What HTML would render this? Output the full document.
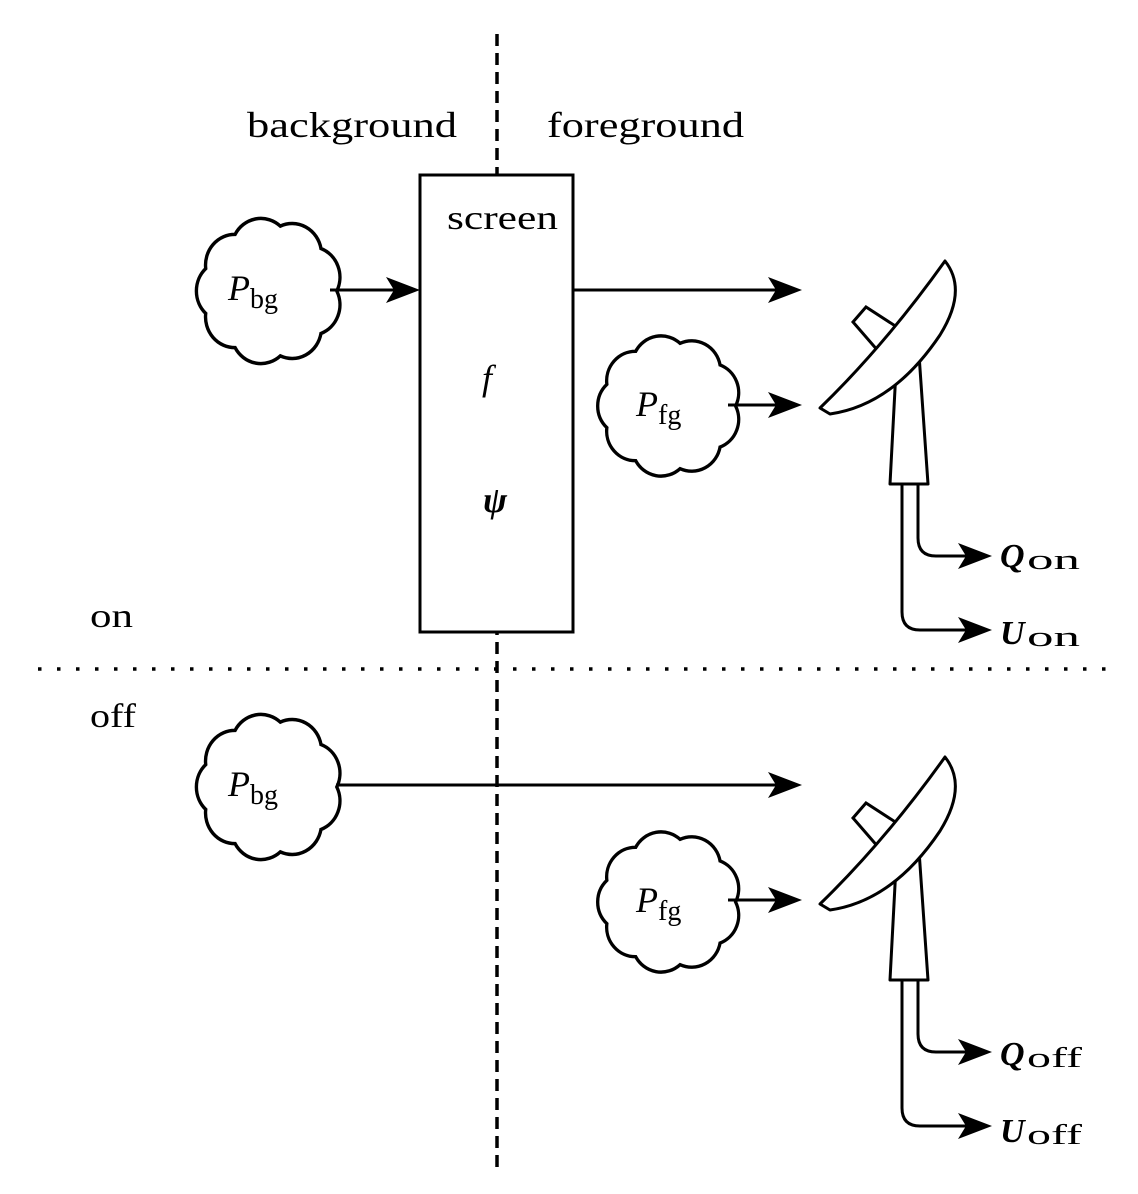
<!DOCTYPE html>
<html><head><meta charset="utf-8"><style>
html,body{margin:0;padding:0;background:#fff}
svg{display:block}
text{font-family:"Liberation Serif",serif;fill:#000}
</style></head><body>
<svg width="1138" height="1194" viewBox="0 0 1138 1194" xmlns="http://www.w3.org/2000/svg">
<defs>
<path id="cloud" d="M60,0 A26,26 0 0 1 46,36 A26,26 0 0 1 10,55 A26,26 0 0 1 -30,48 A26,26 0 0 1 -56,19 A26,26 0 0 1 -56,-19 A26,26 0 0 1 -30,-48 A26,26 0 0 1 10,-55 A26,26 0 0 1 46,-36 A26,26 0 0 1 60,0 Z" fill="#fff" stroke="#000" stroke-width="3"/>
<g id="dish">
<polygon points="853,322 866,307 900,329 879,352" fill="#fff" stroke="#000" stroke-width="3"/>
<polygon points="896,370 918,340 928,484 890,484" fill="#fff" stroke="#000" stroke-width="3" stroke-linejoin="round"/>
<path d="M820,408 Q885,345 945,261 Q968,290 940,335 Q893,405 830,414 Z" fill="#fff" stroke="#000" stroke-width="3" stroke-linejoin="round"/>
<path d="M918,484 V538 Q918,556 936,556 H975" fill="none" stroke="#000" stroke-width="3"/>
<path d="M902,484 V612 Q902,630 920,630 H975" fill="none" stroke="#000" stroke-width="3"/>
<path d="M992,556 L958,543 L966,556 L958,569 Z"/>
<path d="M992,630 L958,617 L966,630 L958,643 Z"/>
</g>
</defs>
<line x1="497" y1="34" x2="497" y2="1168" stroke="#000" stroke-width="3.5" stroke-dasharray="12,7"/>
<line x1="38" y1="669" x2="1108" y2="669" stroke="#000" stroke-width="3.5" stroke-dasharray="3.5,15.5"/>
<text x="247" y="137" font-size="36" textLength="210" lengthAdjust="spacingAndGlyphs">background</text>
<text x="547" y="137" font-size="36" textLength="197" lengthAdjust="spacingAndGlyphs">foreground</text>
<text x="90" y="627" font-size="34" textLength="43" lengthAdjust="spacingAndGlyphs">on</text>
<text x="90" y="727" font-size="34" textLength="46" lengthAdjust="spacingAndGlyphs">off</text>
<rect x="420" y="175" width="153" height="457" fill="#fff" stroke="#000" stroke-width="3"/>
<text x="447" y="229" font-size="34" textLength="111" lengthAdjust="spacingAndGlyphs">screen</text>
<text x="482" y="390" font-size="36" font-style="italic">f</text>
<text x="483" y="512" font-size="36" font-style="italic" font-weight="bold">ψ</text>
<!-- on -->
<use href="#cloud" transform="translate(269,291) scale(1.13,1.18)"/>
<text x="228" y="300" font-size="36" font-style="italic">P</text><text x="250" y="308" font-size="28">bg</text>
<line x1="330" y1="290" x2="400" y2="290" stroke="#000" stroke-width="3"/>
<path d="M420,290 L386,277 L394,290 L386,303 Z"/>
<line x1="573" y1="290" x2="785" y2="290" stroke="#000" stroke-width="3"/>
<path d="M802,290 L768,277 L776,290 L768,303 Z"/>
<use href="#cloud" transform="translate(669,406) scale(1.11,1.14)"/>
<text x="636" y="416" font-size="36" font-style="italic">P</text><text x="658" y="424" font-size="28">fg</text>
<line x1="728" y1="405" x2="785" y2="405" stroke="#000" stroke-width="3"/>
<path d="M802,405 L768,392 L776,405 L768,418 Z"/>
<use href="#dish"/>
<text x="1000" y="567" font-size="34" font-style="italic" font-weight="bold">Q</text><text x="1027" y="569" font-size="28" textLength="53" lengthAdjust="spacingAndGlyphs">on</text>
<text x="1000" y="644" font-size="34" font-style="italic" font-weight="bold">U</text><text x="1027" y="646" font-size="28" textLength="53" lengthAdjust="spacingAndGlyphs">on</text>
<!-- off -->
<use href="#cloud" transform="translate(269,787) scale(1.13,1.18)"/>
<text x="228" y="796" font-size="36" font-style="italic">P</text><text x="250" y="804" font-size="28">bg</text>
<line x1="336" y1="785" x2="785" y2="785" stroke="#000" stroke-width="3"/>
<path d="M802,785 L768,772 L776,785 L768,798 Z"/>
<use href="#cloud" transform="translate(669,902) scale(1.11,1.14)"/>
<text x="636" y="912" font-size="36" font-style="italic">P</text><text x="658" y="920" font-size="28">fg</text>
<line x1="728" y1="900" x2="785" y2="900" stroke="#000" stroke-width="3"/>
<path d="M802,900 L768,887 L776,900 L768,913 Z"/>
<use href="#dish" transform="translate(0,496)"/>
<text x="1000" y="1065" font-size="34" font-style="italic" font-weight="bold">Q</text><text x="1027" y="1067" font-size="28" textLength="55" lengthAdjust="spacingAndGlyphs">off</text>
<text x="1000" y="1142" font-size="34" font-style="italic" font-weight="bold">U</text><text x="1027" y="1144" font-size="28" textLength="55" lengthAdjust="spacingAndGlyphs">off</text>
</svg>
</body></html>
